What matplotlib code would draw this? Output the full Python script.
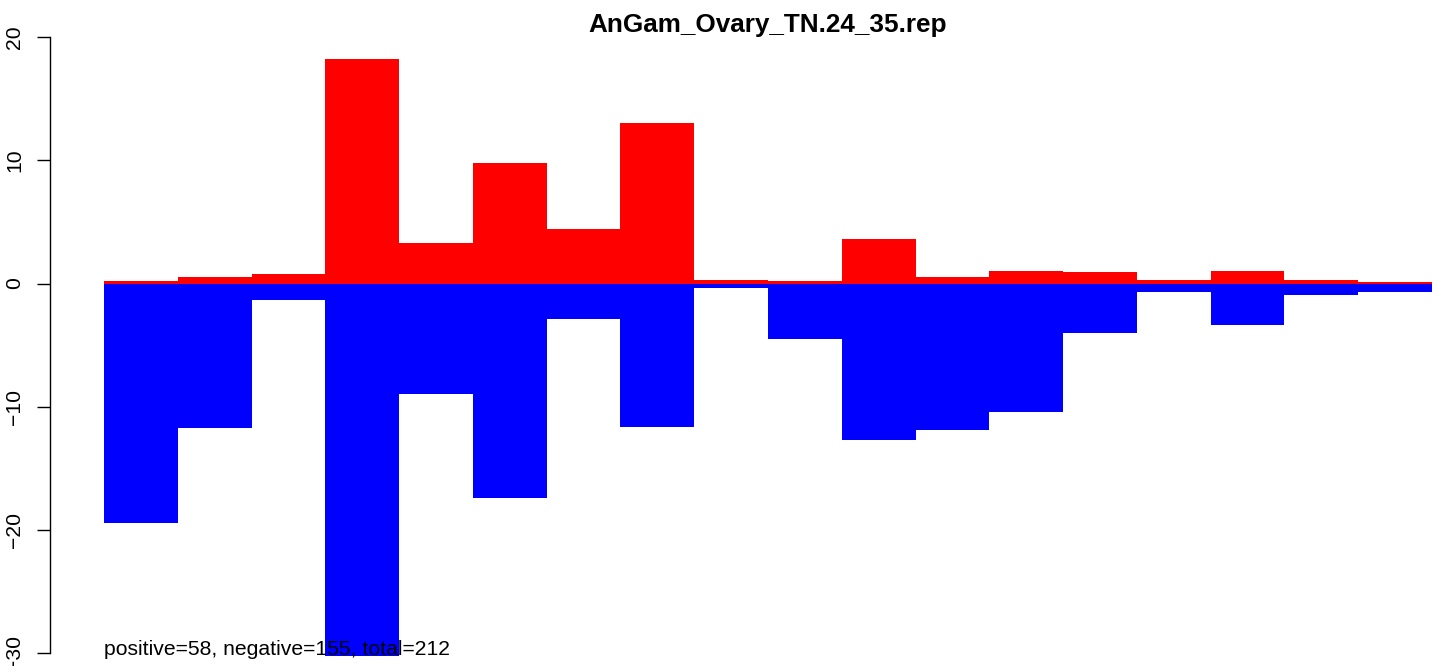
import matplotlib
matplotlib.use('Agg')
import matplotlib.pyplot as plt
import numpy as np

plt.rcParams['font.family'] = ['Liberation Sans', 'DejaVu Sans']

title = 'AnGam_Ovary_TN.24_35.rep'
note = 'positive=58, negative=155, total=212'
positive = [0.17, 0.5, 0.73, 18.2, 3.3, 9.75, 4.4, 13.0, 0.3,
            0.2, 3.6, 0.55, 1.05, 0.9, 0.25, 1.05, 0.25, 0.15]
negative = [-19.4, -11.7, -1.35, -30.2, -8.95, -17.4, -2.9, -11.65, -0.35,
            -4.5, -12.7, -11.85, -10.4, -4.05, -0.65, -3.4, -0.95, -0.65]
yticks = [-30, -20, -10, 0, 10, 20]

W, H = 1444, 666
fig = plt.figure(figsize=(W / 100, H / 100), dpi=100)
# axes spans the bar range in pixels; y range picked so 0 sits at ~283px
x0, x1 = 104, 1432
ytop, ybot = 20, 660
ax = fig.add_axes([x0 / W, 1 - ybot / H, (x1 - x0) / W, (ybot - ytop) / H])

n = len(positive)
x = np.arange(n)
ax.bar(x, positive, width=1.0, align='edge', color='#FF0000', linewidth=0)
ax.bar(x, negative, width=1.0, align='edge', color='#0000FF', linewidth=0)

ppu = 12.33  # pixels per unit
ax.set_ylim((283.5 - ybot) / ppu, (283.5 - ytop) / ppu)
ax.set_xlim(0, n)

for s in ['top', 'right', 'bottom']:
    ax.spines[s].set_visible(False)
ax.spines['left'].set_position(('outward', 54 * 0.72))
ax.spines['left'].set_bounds(-30, 20)
ax.spines['left'].set_linewidth(1.0)
ax.set_xticks([])
ax.set_yticks(yticks)
ax.set_yticklabels([str(t).replace('-', '\u2212') for t in yticks],
                   rotation=90, va='center', fontsize=15.2)
ax.tick_params(axis='y', length=9.4, width=1.0, pad=9)

fig.text((x0 + x1) / 2 / W, 1 - 25 / H, title, fontsize=18.8,
         fontweight='bold', ha='center', va='center')
ax.text(0, -30.15, note, fontsize=15.2, ha='left', va='baseline')

fig.savefig('out.png', dpi=100)
